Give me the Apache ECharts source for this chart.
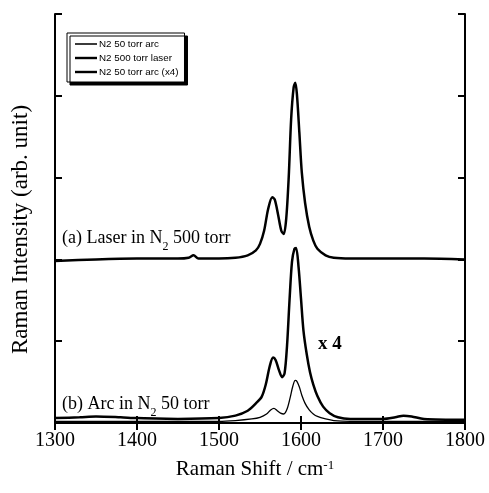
<!DOCTYPE html>
<html>
<head>
<meta charset="utf-8">
<script src="https://cdn.jsdelivr.net/npm/echarts@6/dist/echarts.min.js"></script>
<style>html,body{margin:0;padding:0;background:#fff}#c{width:489px;height:493px}</style>
</head>
<body>
<div id="c"></div>
<script>
// Raman shift (cm^-1) and intensity (arb. unit)
const shiftLaser = [1300,1350,1400,1450,1463,1469,1475,1500,1520,1535,1545,1550,1555,1560,1565,1568,1572,1576,1579,1582,1585,1588,1591,1593,1595,1598,1601,1605,1610,1615,1620,1630,1640,1660,1700,1750,1800];
const intensityLaser = [1.98,2.0,2.01,2.01,2.02,2.05,2.01,2.01,2.02,2.05,2.11,2.19,2.35,2.62,2.76,2.73,2.55,2.35,2.31,2.50,3.00,3.72,4.10,4.16,4.02,3.55,3.06,2.69,2.40,2.23,2.13,2.05,2.02,2.01,2.01,2.01,2.0];

const shiftArc4 = [1300,1330,1350,1380,1400,1450,1500,1520,1535,1545,1552,1557,1562,1566,1569,1573,1577,1580,1583,1586,1589,1592,1594,1597,1600,1603,1607,1611,1615,1620,1627,1635,1645,1660,1700,1715,1725,1735,1750,1800];
const intensityArc4 = [0.06,0.07,0.08,0.07,0.06,0.05,0.06,0.09,0.15,0.24,0.32,0.47,0.70,0.80,0.77,0.65,0.56,0.61,0.95,1.50,1.97,2.13,2.14,1.91,1.52,1.13,0.84,0.62,0.47,0.33,0.20,0.12,0.07,0.05,0.05,0.07,0.09,0.08,0.05,0.04];

const shiftArc = [1300,1400,1500,1520,1540,1550,1558,1563,1567,1571,1575,1579,1583,1587,1590,1593,1595,1598,1601,1605,1610,1615,1620,1630,1640,1660,1700,1800];
const intensityArc = [0.02,0.02,0.02,0.03,0.05,0.07,0.11,0.16,0.18,0.15,0.12,0.11,0.17,0.32,0.45,0.52,0.51,0.44,0.34,0.24,0.16,0.11,0.08,0.05,0.03,0.02,0.02,0.02];

const seriesNames = ['N2 50 torr arc','N2 500 torr laser','N2 50 torr arc (x4)'];
const xTicks = {min:1300, max:1800, step:100};
const yTicks = {min:0, max:5, step:1};

function pairs(xs, ys){ return xs.map((x,i)=>[x, ys[i]]); }

const serif = 'Liberation Serif';
const mctx = document.createElement('canvas').getContext('2d');
function textW(t, size){ mctx.font = size + 'px "' + serif + '"'; return mctx.measureText(t).width; }
function subLabel(before, sub, after, left, top){
  const main = 18, small = 12;
  const w1 = textW(before, main), w2 = textW(sub, small);
  return {type:'group', left:left, top:top, children:[
    {type:'text', x:0, y:0, style:{text:before, fontFamily:serif, fontSize:main, fill:'#000'}},
    {type:'text', x:w1, y:12, style:{text:sub, fontFamily:serif, fontSize:small, fill:'#000'}},
    {type:'text', x:w1+w2, y:0, style:{text:after, fontFamily:serif, fontSize:main, fill:'#000'}}
  ]};
}

const chart = echarts.init(document.getElementById('c'), null, {renderer:'canvas'});
const axisCommon = {
  axisLine:{show:true, lineStyle:{color:'#000', width:2}},
  axisTick:{show:true, inside:true, length:7, lineStyle:{color:'#000', width:2}},
  splitLine:{show:false}
};
const thinIcon = 'path://M0 0H100V7H0Z';
const thickIcon = 'path://M0 0H100V11H0Z';
chart.setOption({
  animation:false,
  backgroundColor:'#fff',
  grid:{left:55, right:24, top:14, bottom:70},
  legend:{
    orient:'vertical', left:67, top:33,
    data:[{name:seriesNames[0], icon:thinIcon},{name:seriesNames[1], icon:thickIcon},{name:seriesNames[2], icon:thickIcon}],
    itemWidth:22, itemHeight:10, itemGap:4,
    padding:[6,6,5,8],
    backgroundColor:'#fff', borderColor:'#000', borderWidth:1,
    shadowColor:'#000', shadowBlur:0, shadowOffsetX:3, shadowOffsetY:3,
    textStyle:{fontFamily:'Liberation Sans', fontSize:9.8, color:'#000', padding:[0,0,0,-3]}
  },
  xAxis:[
    Object.assign({type:'value', min:xTicks.min, max:xTicks.max, interval:xTicks.step,
      axisLabel:{color:'#000', fontFamily:serif, fontSize:20, margin:8, formatter:v=>String(v)},
      name:'Raman Shift / cm{sup|-1}', nameLocation:'middle', nameGap:36,
      nameTextStyle:{color:'#000', fontFamily:serif, fontSize:21, padding:[0,10,0,0],
        rich:{sup:{fontFamily:serif, fontSize:13, color:'#000', verticalAlign:'top', lineHeight:13, padding:[0,0,10,0]}}}
    }, axisCommon),
    Object.assign({type:'value', position:'top', min:xTicks.min, max:xTicks.max, interval:xTicks.step,
      axisLabel:{show:false}}, axisCommon)
  ],
  yAxis:[
    Object.assign({type:'value', min:yTicks.min, max:yTicks.max, interval:yTicks.step,
      axisLabel:{show:false},
      name:'Raman Intensity (arb. unit)', nameLocation:'middle', nameGap:23,
      nameTextStyle:{color:'#000', fontFamily:serif, fontSize:23, padding:[0,22,0,0]}
    }, axisCommon),
    Object.assign({type:'value', position:'right', min:yTicks.min, max:yTicks.max, interval:yTicks.step,
      axisLabel:{show:false}}, axisCommon)
  ],
  series:[
    {name:seriesNames[0], type:'line', data:pairs(shiftArc,intensityArc), symbol:'none', smooth:0.3,
      lineStyle:{color:'#000', width:1.3}, itemStyle:{color:'#000'}, z:3},
    {name:seriesNames[1], type:'line', data:pairs(shiftLaser,intensityLaser), symbol:'none', smooth:0.3,
      lineStyle:{color:'#000', width:2.5}, itemStyle:{color:'#000'}, z:2},
    {name:seriesNames[2], type:'line', data:pairs(shiftArc4,intensityArc4), symbol:'none', smooth:0.3,
      lineStyle:{color:'#000', width:2.5}, itemStyle:{color:'#000'}, z:2}
  ],
  graphic:[
    subLabel('(a) Laser in N', '2', ' 500 torr', 62, 229),
    subLabel('(b) Arc in N', '2', ' 50 torr', 62, 395),
    {type:'text', left:318, top:335, style:{
      text:'x 4', fontFamily:serif, fontSize:19, fontWeight:'bold', fill:'#000'}}
  ]
});
</script>
</body>
</html>
